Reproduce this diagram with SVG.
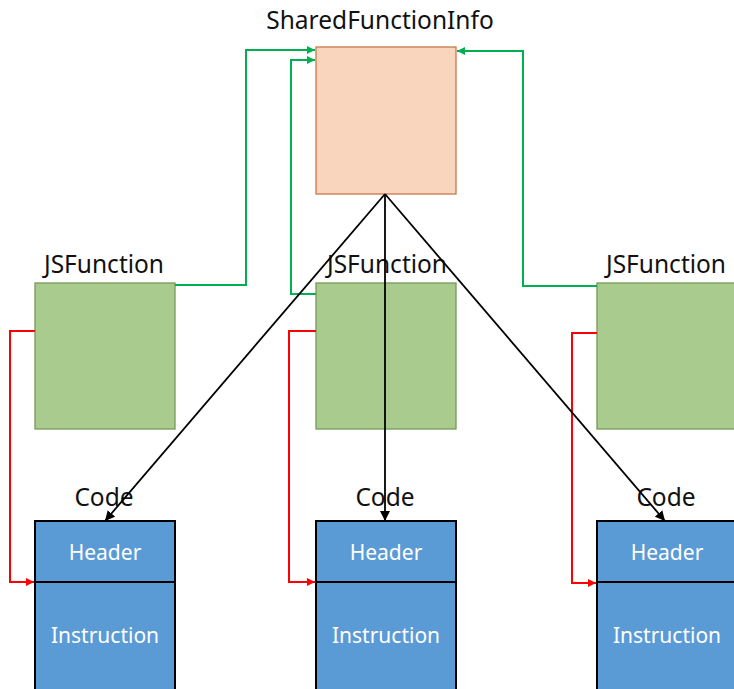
<svg xmlns="http://www.w3.org/2000/svg" width="734" height="689" viewBox="0 0 734 689">
<defs>
<marker id="ag" viewBox="0 0 10 10" refX="10" refY="5" markerWidth="8" markerHeight="8" markerUnits="userSpaceOnUse" orient="auto"><path d="M0,0 L10,5 L0,10 z" fill="#00B050"/></marker>
<marker id="ar" viewBox="0 0 10 10" refX="10" refY="5" markerWidth="8" markerHeight="8" markerUnits="userSpaceOnUse" orient="auto"><path d="M0,0 L10,5 L0,10 z" fill="#FF0000"/></marker>
<marker id="ak" viewBox="0 0 10 10" refX="10" refY="5" markerWidth="10" markerHeight="10" markerUnits="userSpaceOnUse" orient="auto"><path d="M0,0 L10,5 L0,10 z" fill="#000"/></marker>
</defs>
<style>
.lbl{font-family:"Noto Sans","Open Sans",sans-serif;font-size:24.5px;fill:#111;text-anchor:middle}
.in{font-family:"Noto Sans","Open Sans",sans-serif;font-size:21px;fill:#fff;text-anchor:middle}
.sfi{fill:#F8D5BC;stroke:#C8784A;stroke-width:1.3}
.jsf{fill:#A9CC8E;stroke:#739A58;stroke-width:1.3}
.code{fill:#5B9BD5;stroke:#000;stroke-width:2}
.g{fill:none;stroke:#00B050;stroke-width:2}
.r{fill:none;stroke:#FF0000;stroke-width:2}
.k{fill:none;stroke:#000;stroke-width:1.8}
</style>
<rect width="734" height="689" fill="#fff"/>
<g id="sfi">
<rect class="sfi" x="316" y="47" width="140" height="147"/>
<text class="lbl" x="380" y="29">SharedFunctionInfo</text>
</g>
<g id="jsf1">
<rect class="jsf" x="35" y="283" width="140" height="146"/>
<text class="lbl" x="104" y="273">JSFunction</text>
</g>
<g id="jsf2">
<rect class="jsf" x="316" y="283" width="140" height="146"/>
<text class="lbl" x="387" y="273">JSFunction</text>
</g>
<g id="jsf3">
<rect class="jsf" x="597" y="283" width="140" height="146"/>
<text class="lbl" x="666" y="273">JSFunction</text>
</g>
<g id="code1">
<rect class="code" x="35" y="521" width="140" height="180"/>
<line x1="35" y1="582" x2="175" y2="582" stroke="#000" stroke-width="2"/>
<text class="lbl" x="104" y="506">Code</text>
<text class="in" x="105" y="560">Header</text>
<text class="in" x="105" y="643">Instruction</text>
</g>
<g id="code2">
<rect class="code" x="316" y="521" width="140" height="180"/>
<line x1="316" y1="582" x2="456" y2="582" stroke="#000" stroke-width="2"/>
<text class="lbl" x="385" y="506">Code</text>
<text class="in" x="386" y="560">Header</text>
<text class="in" x="386" y="643">Instruction</text>
</g>
<g id="code3">
<rect class="code" x="597" y="521" width="140" height="180"/>
<line x1="597" y1="582" x2="737" y2="582" stroke="#000" stroke-width="2"/>
<text class="lbl" x="666" y="506">Code</text>
<text class="in" x="667" y="560">Header</text>
<text class="in" x="667" y="643">Instruction</text>
</g>
<g id="connectors">
<polyline class="g" points="175,285 246,285 246,50 315,50" marker-end="url(#ag)"/>
<polyline class="g" points="316,294 291,294 291,60 315,60" marker-end="url(#ag)"/>
<polyline class="g" points="597,286 523,286 523,51 457,51" marker-end="url(#ag)"/>
<polyline class="r" points="35,331 10,331 10,582 34,582" marker-end="url(#ar)"/>
<polyline class="r" points="316,331 289,331 289,582 315,582" marker-end="url(#ar)"/>
<polyline class="r" points="597,333 572,333 572,583 596,583" marker-end="url(#ar)"/>
<line class="k" x1="385" y1="194" x2="105" y2="521" marker-end="url(#ak)"/>
<line class="k" x1="385" y1="194" x2="385" y2="521" marker-end="url(#ak)"/>
<line class="k" x1="385" y1="194" x2="665" y2="521" marker-end="url(#ak)"/>
</g>
</svg>
